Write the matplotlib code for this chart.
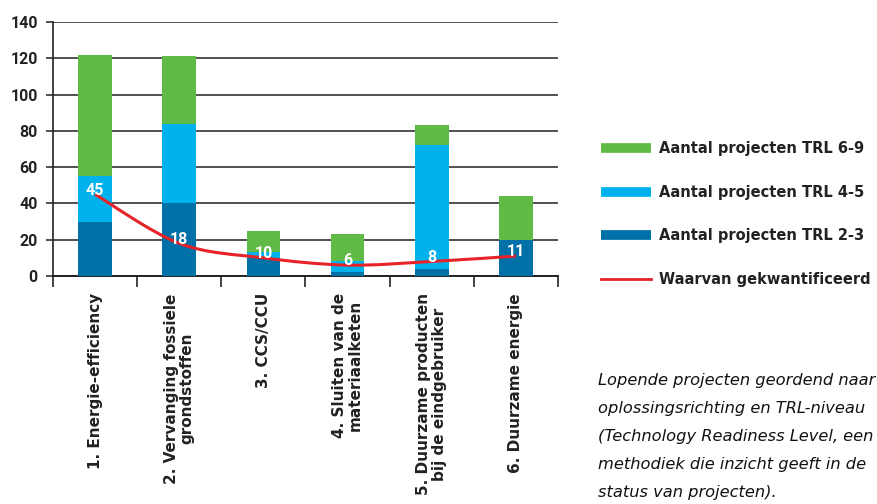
import matplotlib
matplotlib.use("Agg")
import matplotlib.pyplot as plt
import numpy as np
from matplotlib.path import Path
from matplotlib.patches import PathPatch
from matplotlib.lines import Line2D

plt.rcParams['font.family'] = ['Roboto', 'DejaVu Sans']

categories = ['1. Energie-efficiency', '2. Vervanging fossiele\ngrondstoffen', '3. CCS/CCU',
              '4. Sluiten van de\nmateriaalketen', '5. Duurzame producten\nbij de eindgebruiker',
              '6. Duurzame energie']
trl_23 = [30, 40, 10, 2, 4, 20]
trl_45 = [25, 44, 3, 6, 68, 0]
trl_69 = [67, 37, 12, 15, 11, 24]
gekwantificeerd = [45, 18, 10, 6, 8, 11]

c_dark = '#0070A8'
c_light = '#00B2EC'
c_green = '#62BA46'
c_red = '#E52329'
grid_c = '#333333'

fig = plt.figure(figsize=(8.77, 5.04), dpi=100)
ax = fig.add_axes([53 / 877, 1 - 276 / 504, 505 / 877, 254 / 504])

x = np.arange(len(categories))
w = 0.40
b1 = np.array(trl_23)
b2 = b1 + np.array(trl_45)
ax.bar(x, trl_23, w, color=c_dark, zorder=3)
ax.bar(x, trl_45, w, bottom=b1, color=c_light, zorder=3)
ax.bar(x, trl_69, w, bottom=b2, color=c_green, zorder=3)

# smoothed line (excel-like bezier through the points)
y = np.array(gekwantificeerd, dtype=float)
verts = [(x[0], y[0])]
codes = [Path.MOVETO]
n = len(x)
for i in range(n - 1):
    p0 = (x[max(i - 1, 0)], y[max(i - 1, 0)])
    p1 = (x[i], y[i])
    p2 = (x[i + 1], y[i + 1])
    p3 = (x[min(i + 2, n - 1)], y[min(i + 2, n - 1)])
    c1 = (p1[0] + (p2[0] - p0[0]) / 6, p1[1] + (p2[1] - p0[1]) / 6)
    c2 = (p2[0] - (p3[0] - p1[0]) / 6, p2[1] - (p3[1] - p1[1]) / 6)
    verts += [c1, c2, p2]
    codes += [Path.CURVE4] * 3
ax.add_patch(PathPatch(Path(verts, codes), facecolor='none', edgecolor=c_red, lw=2.2, zorder=4))

for xi, v in zip(x, gekwantificeerd):
    ax.annotate(str(v), (xi, v), xytext=(0, 3), textcoords='offset points', ha='center',
                va='center', color='white', fontsize=11.5, fontweight='bold', zorder=5)

ax.set_xlim(-0.5, n - 0.5)
ax.set_ylim(0, 140)
ax.set_yticks(range(0, 141, 20))
ax.yaxis.grid(True, color=grid_c, lw=1.2, zorder=0)
ax.set_axisbelow(True)
for s in ['top', 'right', 'bottom']:
    ax.spines[s].set_visible(False)
ax.spines['left'].set_color('#222222')
ax.spines['left'].set_linewidth(1.2)
ax.axhline(0, color='#222222', lw=1.4, zorder=2, clip_on=False)
ax.tick_params(axis='y', length=5, width=1.1, color='#222222', pad=6, labelsize=11.5)
for lab in ax.get_yticklabels():
    lab.set_fontweight('bold')
    lab.set_color('#222222')

# category boundary ticks
ax.set_xticks(np.arange(-0.5, n, 1.0))
ax.set_xticklabels([])
ax.tick_params(axis='x', length=8, width=1.2, color='#222222')
for xi, lab in zip(x, categories):
    ax.text(xi, -9.5, lab, rotation=90, ha='center', va='top', multialignment='center',
            fontsize=11, fontweight='bold', color='#222222', linespacing=1.05,
            family='DejaVu Sans')

# legend
handles = [Line2D([], [], color=c_green, lw=7, solid_capstyle='butt'),
           Line2D([], [], color=c_light, lw=7, solid_capstyle='butt'),
           Line2D([], [], color=c_dark, lw=7, solid_capstyle='butt'),
           Line2D([], [], color=c_red, lw=2)]
labels = ['Aantal projecten TRL 6-9', 'Aantal projecten TRL 4-5', 'Aantal projecten TRL 2-3',
          'Waarvan gekwantificeerd']
leg = fig.legend(handles, labels, loc='upper left', bbox_to_anchor=(588 / 877, 1 - 128 / 504),
                 frameon=False, handlelength=3.4, handletextpad=0.6, labelspacing=1.96,
                 prop={'weight': 'bold', 'size': 10.5, 'family': 'DejaVu Sans'})
for t in leg.get_texts():
    t.set_color('#222222')

caption = ['Lopende projecten geordend naar', 'oplossingsrichting en TRL-niveau',
           '(Technology Readiness Level, een', 'methodiek die inzicht geeft in de',
           'status van projecten).']
for i, line in enumerate(caption):
    fig.text(598 / 877, 1 - (380 + 28 * i) / 504, line, ha='left', va='center',
             fontsize=11.7, style='italic', color='#111111', family='DejaVu Sans')

fig.savefig('out.png', dpi=100)
